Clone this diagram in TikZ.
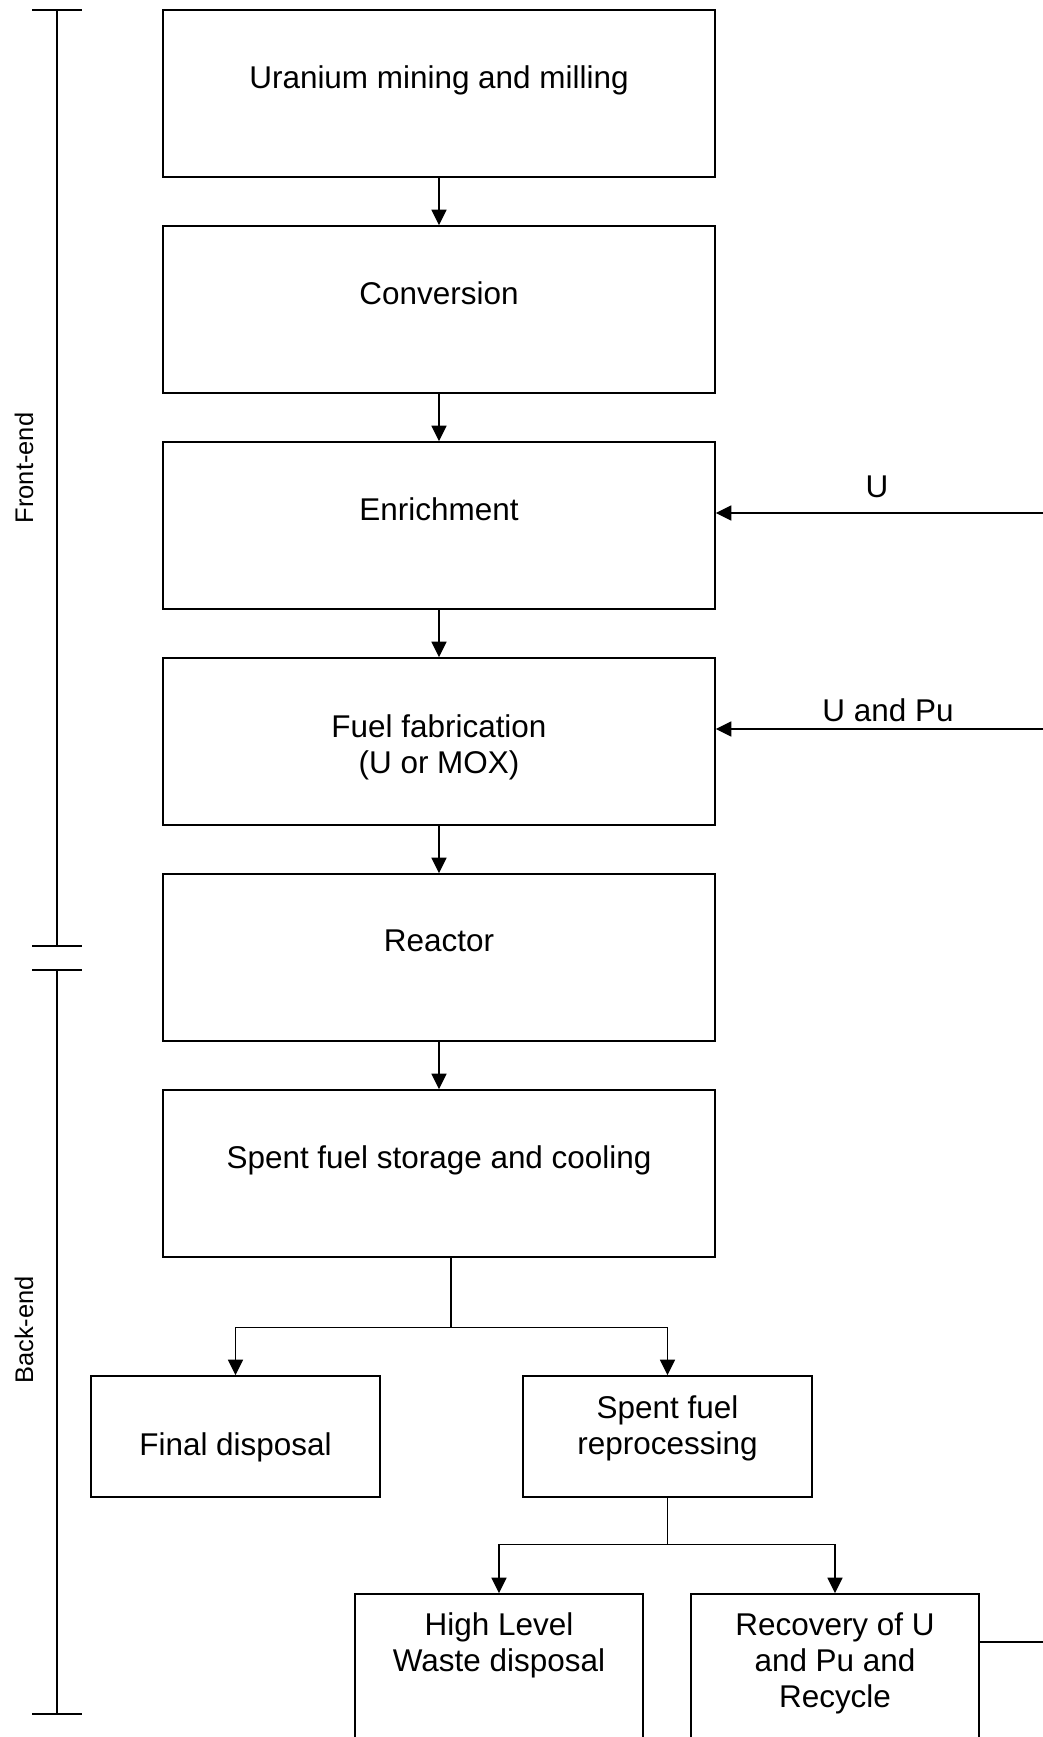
\documentclass[tikz,border=0pt]{standalone}
\usepackage{fontspec}
\setmainfont{Liberation Sans}
\usetikzlibrary{arrows.meta}
\newdimen\unitpx \unitpx=0.02cm
\newcommand\boxfont{\fontsize{17.9pt}{20.5pt}\selectfont}
\newcommand\sidefont{\fontsize{14.5pt}{17pt}\selectfont}
\tikzset{
  stage/.style={draw, line width=0.9pt, inner sep=0pt},
  bigbox/.style={stage, minimum width=552\unitpx, minimum height=167\unitpx},
  midbox/.style={stage, minimum width=289\unitpx, minimum height=121\unitpx},
  lowbox/.style={stage, minimum width=288\unitpx, minimum height=220\unitpx},
  txt/.style={anchor=north, inner sep=0pt, align=center, font=\boxfont},
  flowlabel/.style={anchor=base, inner sep=0pt, font=\boxfont},
  sidelabel/.style={rotate=90, inner sep=0pt, font=\sidefont},
  arr/.style={-{Triangle[length=0.31cm,width=0.3cm]}, line width=0.9pt},
  plain/.style={line width=0.9pt},
}
\begin{document}
\begin{tikzpicture}[x=0.02cm, y=-0.02cm]
\useasboundingbox (0,0) rectangle (1043,1737);
\fill[white] (0,0) rectangle (1043,1737);
\begin{scope}
\clip (0,0) rectangle (1043,1737);

% front-end / back-end bracket
\draw[plain] (32,10) -- (82,10);
\draw[plain] (57,10) -- (57,946);
\draw[plain] (32,946) -- (82,946);
\draw[plain] (32,970) -- (82,970);
\draw[plain] (57,970) -- (57,1714);
\draw[plain] (32,1714) -- (82,1714);
\node[sidelabel] (fe) at (24,468) {Front-end};
\node[sidelabel] (be) at (24,1330) {Back-end};

% main chain of stages
\node[bigbox] (b1) at (439,93.5) {};
\node[bigbox] (b2) at (439,309.5) {};
\node[bigbox] (b3) at (439,525.5) {};
\node[bigbox] (b4) at (439,741.5) {};
\node[bigbox] (b5) at (439,957.5) {};
\node[bigbox] (b6) at (439,1173.5) {};

\node[txt] (t1) at ([yshift=-56\unitpx]b1.north) {Uranium mining and milling};
\node[txt] (t2) at ([yshift=-56\unitpx]b2.north) {Conversion};
\node[txt] (t3) at ([yshift=-56\unitpx]b3.north) {Enrichment};
\node[txt] (t4) at ([yshift=-57\unitpx]b4.north) {Fuel fabrication\\(U or MOX)};
\node[txt] (t5) at ([yshift=-56\unitpx]b5.north) {Reactor};
\node[txt] (t6) at ([yshift=-56\unitpx]b6.north) {Spent fuel storage and cooling};

\draw[arr] (b1) -- (b2);
\draw[arr] (b2) -- (b3);
\draw[arr] (b3) -- (b4);
\draw[arr] (b4) -- (b5);
\draw[arr] (b5) -- (b6);

% back-end branches
\node[midbox] (fd) at (235.5,1436.5) {};
\node[midbox] (rp) at (667.5,1436.5) {};
\node[txt] (tfd) at ([yshift=-57\unitpx]fd.north) {Final disposal};
\node[txt] (trp) at ([yshift=-20\unitpx]rp.north) {Spent fuel\\reprocessing};

\coordinate (fk) at (451,1327.5);
\draw[plain] (b6.south -| fk) -- (fk);
\draw[arr] (fk) -| (fd.north);
\draw[arr] (fk) -| (rp.north);

\node[lowbox] (hlw) at (499,1704) {};
\node[lowbox] (rec) at (835,1704) {};
\node[txt] (thlw) at ([yshift=-19\unitpx]hlw.north) {High Level\\Waste disposal};
\node[txt] (trec) at ([yshift=-19\unitpx]rec.north) {Recovery of U\\and Pu and\\Recycle};

\coordinate (fk2) at (667.5,1544.5);
\draw[plain] (rp.south) -- (fk2);
\draw[arr] (fk2) -| (hlw.north);
\draw[arr] (fk2) -| (rec.north);

% recycle stream back to the front end
\coordinate (outR) at (1060,1642);
\draw[plain] (rec.east |- outR) -- (outR);
\coordinate (inU) at (1060,513);
\coordinate (inUPu) at (1060,729);
\draw[arr] (inU) -- (b3.east |- inU);
\draw[arr] (inUPu) -- (b4.east |- inUPu);
\node[flowlabel] (lU) at (877,497) {U};
\node[flowlabel] (lUPu) at (888,721) {U and Pu};
\end{scope}
\end{tikzpicture}
\end{document}
